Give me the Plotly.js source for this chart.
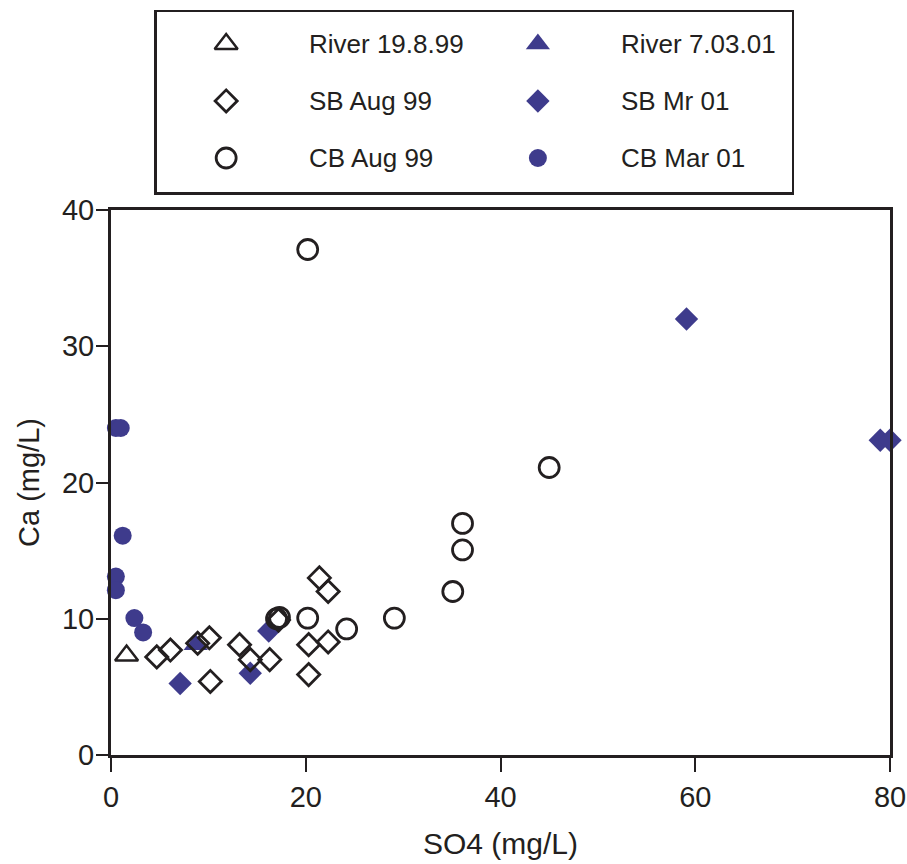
<!DOCTYPE html>
<html>
<head>
<meta charset="utf-8">
<script src="https://cdn.plot.ly/plotly-3.0.1.min.js"></script>
<style>html,body{margin:0;padding:0;background:#fff;}#chart{width:907px;height:864px;}</style>
</head>
<body>
<div id="chart"></div>
<script>
// Data: SO4 (mg/L) vs Ca (mg/L)
const river99_so4 = [1.6];
const river99_ca  = [7.3];
const river01_so4 = [8.7];
const river01_ca  = [8.1];
const sbAug99_so4 = [4.7, 6.1, 8.9, 10.1, 10.2, 13.2, 14.3, 16.3, 17.2, 20.3, 22.3, 20.3, 21.4, 22.3];
const sbAug99_ca  = [7.2, 7.7, 8.2, 8.6, 5.4, 8.1, 7.0, 7.0, 9.9, 8.1, 8.3, 5.9, 13.0, 12.0];
const sbMr01_so4  = [7.1, 14.3, 16.2, 59.1, 79.0, 80.0];
const sbMr01_ca   = [5.25, 6.0, 9.1, 32.0, 23.1, 23.1];
const cbAug99_so4 = [20.2, 45.0, 36.1, 36.1, 35.1, 29.1, 24.2, 20.2, 17.0, 17.3];
const cbAug99_ca  = [37.1, 21.1, 17.0, 15.05, 12.0, 10.05, 9.25, 10.05, 10.0, 10.1];
const cbMar01_so4 = [0.5, 1.0, 1.2, 0.5, 0.5, 2.4, 3.3];
const cbMar01_ca  = [24.0, 24.0, 16.1, 13.1, 12.1, 10.05, 9.0];

const seriesNames = ["River 19.8.99", "River 7.03.01", "SB Aug 99", "SB Mr 01", "CB Aug 99", "CB Mar 01"];

const NAVY = "#3e3b8c";
const INK = "#231f20";
const FONT = "Liberation Sans, Arial, Helvetica, sans-serif";

const styles = [
  {symbol: "triangle-up-open", size: 20, color: INK, lw: 2.5},
  {symbol: "triangle-up", size: 21, color: NAVY, lw: 0},
  {symbol: "diamond-open", size: 17, color: INK, lw: 2.8},
  {symbol: "diamond", size: 18, color: NAVY, lw: 0},
  {symbol: "circle-open", size: 20, color: INK, lw: 2.8},
  {symbol: "circle", size: 18, color: NAVY, lw: 0}
];
const xs = [river99_so4, river01_so4, sbAug99_so4, sbMr01_so4, cbAug99_so4, cbMar01_so4];
const ys = [river99_ca, river01_ca, sbAug99_ca, sbMr01_ca, cbAug99_ca, cbMar01_ca];
// draw order: filled markers beneath open ones, as in the reference
const order = [1, 3, 5, 0, 2, 4];

const traces = [];
order.forEach(i => {
  const s = styles[i];
  traces.push({
    type: "scatter", mode: "markers", name: seriesNames[i],
    x: xs[i], y: ys[i], cliponaxis: false, showlegend: false,
    marker: {symbol: s.symbol, size: s.size, color: s.color, line: {width: s.lw, color: s.color}}
  });
});

// Legend drawn on an auxiliary axis pair
const legCol = [0.109, 0.6];
const legTxt = [0.236, 0.728];
const legRow = [0.822, 0.506, 0.189];
const annotations = [];
seriesNames.forEach((nm, i) => {
  const c = i % 2, r = Math.floor(i / 2);
  const s = styles[i];
  traces.push({
    type: "scatter", mode: "markers", xaxis: "x2", yaxis: "y2", showlegend: false, hoverinfo: "skip",
    x: [legCol[c]], y: [legRow[r]],
    marker: {symbol: s.symbol, size: s.size, color: s.color, line: {width: s.lw, color: s.color}}
  });
  annotations.push({
    xref: "x2", yref: "y2", x: legTxt[c], y: legRow[r], text: nm, showarrow: false,
    xanchor: "left", yanchor: "middle",
    font: {family: FONT, size: 26, color: INK}
  });
});

const layout = {
  width: 907, height: 864,
  margin: {l: 111, r: 17, t: 12, b: 109},
  paper_bgcolor: "#fff", plot_bgcolor: "#fff",
  showlegend: false,
  xaxis: {
    range: [0, 80], tickvals: [0, 20, 40, 60, 80], ticktext: ["0", "20", "40", "60", "80"],
    showgrid: false, zeroline: false, showline: true, mirror: true, linecolor: INK, linewidth: 3,
    ticks: "outside", ticklen: 14, tickwidth: 2, tickcolor: INK, ticklabeloverflow: "allow",
    tickfont: {family: FONT, size: 29, color: INK},
    title: {text: "SO4 (mg/L)", standoff: 22, font: {family: FONT, size: 30, color: INK}},
    domain: [0, 1]
  },
  yaxis: {
    range: [0, 40], tickvals: [0, 10, 20, 30, 40], ticktext: ["0", "10", "20", "30", "40"],
    showgrid: false, zeroline: false, showline: true, mirror: true, linecolor: INK, linewidth: 3,
    ticks: "outside", ticklen: 12, tickwidth: 2, tickcolor: INK, ticklabelstandoff: -4,
    tickfont: {family: FONT, size: 29, color: INK},
    title: {text: "Ca (mg/L)", standoff: 14, font: {family: FONT, size: 29, color: INK}},
    domain: [0, 0.7335]
  },
  xaxis2: {
    domain: [0.059, 0.874], range: [0, 1], anchor: "y2",
    showgrid: false, zeroline: false, showticklabels: false, ticks: "",
    showline: true, mirror: true, linecolor: INK, linewidth: 2.5
  },
  yaxis2: {
    domain: [0.7577, 1.0], range: [0, 1], anchor: "x2",
    showgrid: false, zeroline: false, showticklabels: false, ticks: "",
    showline: true, mirror: true, linecolor: INK, linewidth: 2.5
  },
  annotations: annotations
};

Plotly.newPlot("chart", traces, layout, {displayModeBar: false, staticPlot: true});
</script>
</body>
</html>
